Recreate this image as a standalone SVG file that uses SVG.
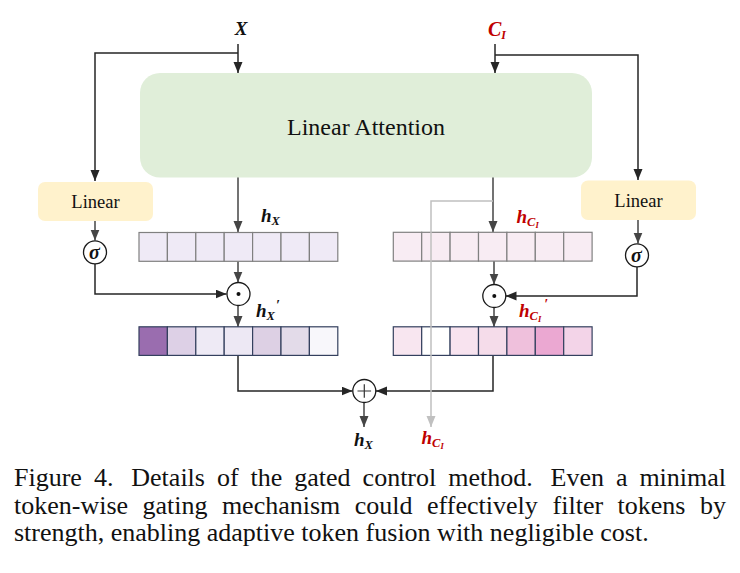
<svg xmlns="http://www.w3.org/2000/svg" width="740" height="573" viewBox="0 0 740 573">
<style>
.ln{fill:none;stroke:#262626;stroke-width:1.5}
.lg{fill:none;stroke:#454545;stroke-width:1.5}
.lgr{fill:none;stroke:#c0c0c0;stroke-width:1.5}
.op{fill:#fff;stroke:#1a1a1a;stroke-width:1.3}
.lbox{fill:#fff2cc}
.t{font-family:"Liberation Serif","Times New Roman",serif;fill:#111}
.m{font-family:"Liberation Serif","Times New Roman",serif;font-weight:bold;font-style:italic}
.red{fill:#c00000}
.c1{stroke:#808080;stroke-width:1.2}
.c2{stroke:#34405e;stroke-width:1.2}
</style>
<defs>
<marker id="ab" markerUnits="userSpaceOnUse" markerWidth="12" markerHeight="10" refX="11" refY="4.5" orient="auto"><path d="M0,0 L11,4.5 L0,9 z" fill="#262626"/></marker>
<marker id="ag" markerUnits="userSpaceOnUse" markerWidth="12" markerHeight="10" refX="11" refY="4.5" orient="auto"><path d="M0,0 L11,4.5 L0,9 z" fill="#454545"/></marker>
<marker id="al" markerUnits="userSpaceOnUse" markerWidth="12" markerHeight="10" refX="11" refY="4.5" orient="auto"><path d="M0,0 L11,4.5 L0,9 z" fill="#c0c0c0"/></marker>
</defs>

<g id="connectors">
<path class="ln" d="M238,44 V73" marker-end="url(#ab)"/>
<path class="ln" d="M238,53 H95 V181" marker-end="url(#ab)"/>
<path class="ln" d="M495,44 V73" marker-end="url(#ab)"/>
<path class="ln" d="M495,55 H638 V180" marker-end="url(#ab)"/>
<path class="lg" d="M238,177 V232" marker-end="url(#ag)"/>
<path class="lg" d="M95,221 V240.5" marker-end="url(#ag)"/>
<path class="lg" d="M238,261 V282.5" marker-end="url(#ag)"/>
<path class="lg" d="M238,305.5 V327" marker-end="url(#ag)"/>
<path class="ln" d="M95,264 V294 H226.5" marker-end="url(#ab)"/>
<path class="lg" d="M493,177 V232" marker-end="url(#ag)"/>
<path class="lg" d="M638,220 V243.5" marker-end="url(#ag)"/>
<path class="lg" d="M494,261 V284.5" marker-end="url(#ag)"/>
<path class="lg" d="M494,307.5 V327" marker-end="url(#ag)"/>
<path class="ln" d="M637,267 V296 H505.5" marker-end="url(#ab)"/>
<path class="ln" d="M238,355 V391 H352.5" marker-end="url(#ab)"/>
<path class="ln" d="M493,355 V391 H376" marker-end="url(#ab)"/>
<path class="lg" d="M364,402.5 V427" marker-end="url(#ag)"/>
</g>

<g id="attention">
<rect x="140" y="73" width="452" height="104.5" rx="20" fill="#e0eed9"/>
<text class="t" x="366" y="135" font-size="24" text-anchor="middle">Linear Attention</text>
</g>

<g id="linear-left">
<rect class="lbox" x="38" y="182" width="115" height="39" rx="7"/>
<text class="t" x="95.5" y="208" font-size="18.5" text-anchor="middle">Linear</text>
</g>
<g id="linear-right">
<rect class="lbox" x="581" y="180.5" width="115" height="39.5" rx="7"/>
<text class="t" x="638.5" y="206.7" font-size="18.5" text-anchor="middle">Linear</text>
</g>

<g id="sigma-left">
<circle class="op" cx="95" cy="252.3" r="11.5"/>
<text class="m" x="94.5" y="258.8" font-size="20" text-anchor="middle" fill="#111">σ</text>
</g>
<g id="sigma-right">
<circle class="op" cx="637" cy="255.3" r="11.5"/>
<text class="m" x="636.5" y="261.8" font-size="20" text-anchor="middle" fill="#111">σ</text>
</g>

<g id="odot-left">
<circle class="op" cx="238.5" cy="294" r="11.5"/>
<circle cx="238.5" cy="294" r="2" fill="#111"/>
</g>
<g id="odot-right">
<circle class="op" cx="494.3" cy="296" r="11.5"/>
<circle cx="494.3" cy="296" r="2" fill="#111"/>
</g>
<g id="plus">
<circle class="op" cx="364.3" cy="391" r="11.5"/>
<path d="M357.5,391 H371.1 M364.3,384.2 V397.8" stroke="#333" stroke-width="1.2"/>
</g>

<g id="hx-row" class="c1">
<rect x="139" y="232.5" width="28.4" height="28.8" fill="#efeaf6"/>
<rect x="167.4" y="232.5" width="28.4" height="28.8" fill="#efeaf6"/>
<rect x="195.8" y="232.5" width="28.4" height="28.8" fill="#efeaf6"/>
<rect x="224.2" y="232.5" width="28.4" height="28.8" fill="#efeaf6"/>
<rect x="252.6" y="232.5" width="28.4" height="28.8" fill="#efeaf6"/>
<rect x="281" y="232.5" width="28.4" height="28.8" fill="#efeaf6"/>
<rect x="309.4" y="232.5" width="28.4" height="28.8" fill="#efeaf6"/>
</g>
<g id="hx-prime-row" class="c2">
<rect x="139" y="326.8" width="28.4" height="28.6" fill="#9a6daf"/>
<rect x="167.4" y="326.8" width="28.4" height="28.6" fill="#ddd0e6"/>
<rect x="195.8" y="326.8" width="28.4" height="28.6" fill="#eeeaf5"/>
<rect x="224.2" y="326.8" width="28.4" height="28.6" fill="#ede8f4"/>
<rect x="252.6" y="326.8" width="28.4" height="28.6" fill="#ddd0e4"/>
<rect x="281" y="326.8" width="28.4" height="28.6" fill="#e3dbe9"/>
<rect x="309.4" y="326.8" width="28.4" height="28.6" fill="#f8f7fb"/>
</g>
<g id="hc-row" class="c1">
<rect x="393.3" y="232.3" width="28.4" height="28.8" fill="#f8ecf3"/>
<rect x="421.7" y="232.3" width="28.4" height="28.8" fill="#f8ecf3"/>
<rect x="450.1" y="232.3" width="28.4" height="28.8" fill="#f8ecf3"/>
<rect x="478.5" y="232.3" width="28.4" height="28.8" fill="#f8ecf3"/>
<rect x="506.9" y="232.3" width="28.4" height="28.8" fill="#f8ecf3"/>
<rect x="535.3" y="232.3" width="28.4" height="28.8" fill="#f8ecf3"/>
<rect x="563.7" y="232.3" width="28.4" height="28.8" fill="#f8ecf3"/>
</g>
<g id="hc-prime-row" class="c2">
<rect x="393.3" y="326.8" width="28.4" height="28.6" fill="#f8e6f0"/>
<rect x="421.7" y="326.8" width="28.4" height="28.6" fill="#ffffff"/>
<rect x="450.1" y="326.8" width="28.4" height="28.6" fill="#f8e3ef"/>
<rect x="478.5" y="326.8" width="28.4" height="28.6" fill="#f5dcea"/>
<rect x="506.9" y="326.8" width="28.4" height="28.6" fill="#efc0dc"/>
<rect x="535.3" y="326.8" width="28.4" height="28.6" fill="#eba8d2"/>
<rect x="563.7" y="326.8" width="28.4" height="28.6" fill="#f3d4e8"/>
</g>

<g id="bypass">
<path class="lgr" d="M493,201 H431 V427" marker-end="url(#al)"/>
</g>

<g id="labels">
<text class="m" x="241" y="35" font-size="19" text-anchor="middle" fill="#111">X</text>
<text class="m red" x="488" y="35.5" font-size="20">C<tspan font-size="12" dy="3">I</tspan></text>
<text class="m" x="261" y="221.5" font-size="19" fill="#111">h<tspan font-size="12.5" dy="3">X</tspan></text>
<text class="m red" x="516.5" y="222.5" font-size="19">h<tspan font-size="12.5" dy="3">C</tspan><tspan font-size="8.5" dy="2">I</tspan></text>
<text class="m" x="256" y="317" font-size="19" fill="#111">h<tspan font-size="12.5" dy="3">X</tspan><tspan font-size="14" dy="-10" dx="1">′</tspan></text>
<text class="m red" x="519" y="317" font-size="19">h<tspan font-size="12.5" dy="3">C</tspan><tspan font-size="8.5" dy="2">I</tspan><tspan font-size="14" dy="-13" dx="3">′</tspan></text>
<text class="m" x="354" y="446" font-size="19" fill="#111">h<tspan font-size="12.5" dy="3">X</tspan></text>
<text class="m red" x="421.5" y="444" font-size="19">h<tspan font-size="12.5" dy="3">C</tspan><tspan font-size="8.5" dy="2">I</tspan></text>
</g>

<g id="caption" class="t" font-size="26">
<text y="486"><tspan x="14">Figure</tspan><tspan x="93.9">4.</tspan><tspan x="131.3">Details</tspan><tspan x="216.9">of</tspan><tspan x="250.6">the</tspan><tspan x="294.3">gated</tspan><tspan x="362.6">control</tspan><tspan x="448.2">method.</tspan><tspan x="550.6">Even</tspan><tspan x="616">a</tspan><tspan x="639.4">minimal</tspan></text>
<text y="513.5"><tspan x="14">token-wise</tspan><tspan x="142.5">gating</tspan><tspan x="221.9">mechanism</tspan><tspan x="354.8">could</tspan><tspan x="427">effectively</tspan><tspan x="552.6">filter</tspan><tspan x="617.5">tokens</tspan><tspan x="699.9">by</tspan></text>
<text x="14" y="541">strength, enabling adaptive token fusion with negligible cost.</text>
</g>
</svg>
